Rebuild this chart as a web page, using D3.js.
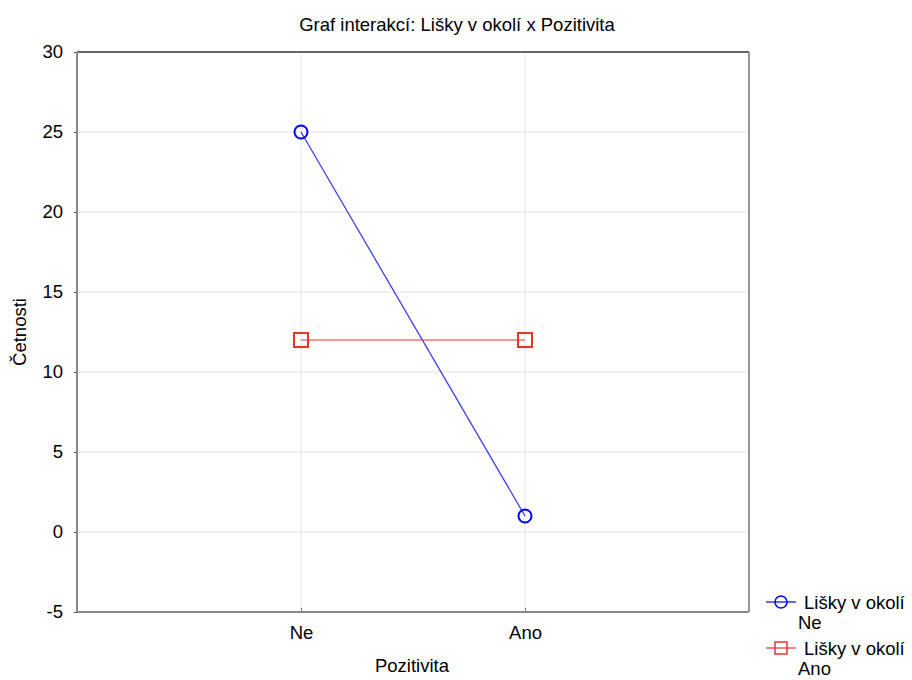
<!DOCTYPE html>
<meta charset="utf-8">
<style>
body { margin: 0; background: #fff; }
text { font-family: "Liberation Sans", Arial, sans-serif; fill: #000; }
</style>
<body>
<script src="https://d3js.org/d3.v7.min.js"></script>
<script>

var categories = ["Ne", "Ano"];
var seriesNames = ["Lišky v okolí\nNe", "Lišky v okolí\nAno"];
var seriesNe = [25, 1];
var seriesAno = [12, 12];
var yTicks = [-5, 0, 5, 10, 15, 20, 25, 30];

var width = 912, height = 680;
var pLeft = 77, pRight = 749, pTop = 52, pBottom = 612;

var svg = d3.select("body").append("svg")
    .attr("width", width)
    .attr("height", height);

var x = d3.scalePoint().domain(categories).range([pLeft, pRight]).padding(1);
var y = d3.scaleLinear().domain([-5, 30]).range([pBottom, pTop]);

// grid
svg.append("g").selectAll("line").data(yTicks.slice(1, -1)).enter().append("line")
    .attr("x1", pLeft).attr("x2", pRight)
    .attr("y1", d => y(d)).attr("y2", d => y(d))
    .attr("stroke", "#e3e3e3").attr("stroke-width", 1);
svg.append("g").selectAll("line").data(categories).enter().append("line")
    .attr("x1", d => x(d)).attr("x2", d => x(d))
    .attr("y1", pTop).attr("y2", pBottom)
    .attr("stroke", "#e3e3e3").attr("stroke-width", 1);

// axes
var yAxis = svg.append("g").attr("transform", "translate(" + pLeft + ",0)")
    .call(d3.axisLeft(y).tickValues(yTicks).tickFormat(d => String(d)).tickSize(3).tickPadding(11));
yAxis.select(".domain").remove();
yAxis.selectAll("line").attr("stroke", "#555");
yAxis.selectAll("text").style("font-size", "18.5px").attr("fill", "#000");

var xAxis = svg.append("g").attr("transform", "translate(0," + pBottom + ")")
    .call(d3.axisBottom(x).tickSize(-4).tickPadding(14));
xAxis.select(".domain").remove();
xAxis.selectAll("line").attr("stroke", "#777");
xAxis.selectAll("text").style("font-size", "18.5px").attr("fill", "#000");

// frame
svg.append("line").attr("x1", pLeft).attr("x2", pRight).attr("y1", pTop).attr("y2", pTop)
    .attr("stroke", "#333").attr("stroke-width", 1.5);
svg.append("line").attr("x1", pRight).attr("x2", pRight).attr("y1", pTop).attr("y2", pBottom)
    .attr("stroke", "#777").attr("stroke-width", 1.5);
svg.append("line").attr("x1", pLeft).attr("x2", pLeft).attr("y1", pTop).attr("y2", pBottom)
    .attr("stroke", "#888").attr("stroke-width", 2);
svg.append("line").attr("x1", pLeft).attr("x2", pRight).attr("y1", pBottom).attr("y2", pBottom)
    .attr("stroke", "#888").attr("stroke-width", 2);

// titles
svg.append("text").attr("x", 457).attr("y", 31).attr("text-anchor", "middle")
    .style("font-size", "18.5px").text("Graf interakcí: Lišky v okolí x Pozitivita");
svg.append("text").attr("transform", "translate(26," + ((pTop + pBottom) / 2) + ") rotate(-90)")
    .attr("text-anchor", "middle").style("font-size", "18.5px").text("Četnosti");
svg.append("text").attr("x", 412).attr("y", 672).attr("text-anchor", "middle")
    .style("font-size", "18.5px").text("Pozitivita");

var line = d3.line().x((d, i) => x(categories[i])).y(d => y(d));

// series Ne (blue circles)
svg.append("path").datum(seriesNe).attr("d", line)
    .attr("fill", "none").attr("stroke", "#3333ff").attr("stroke-width", 1.2);
svg.selectAll(".c").data(seriesNe).enter().append("circle")
    .attr("cx", (d, i) => x(categories[i])).attr("cy", d => y(d)).attr("r", 6.5)
    .attr("fill", "none").attr("stroke", "#0000ff").attr("stroke-width", 2);

// series Ano (red squares)
svg.append("path").datum(seriesAno).attr("d", line)
    .attr("fill", "none").attr("stroke", "#e8332a").attr("stroke-width", 1.2);
svg.selectAll(".s").data(seriesAno).enter().append("rect")
    .attr("x", (d, i) => x(categories[i]) - 7).attr("y", d => y(d) - 7)
    .attr("width", 14).attr("height", 14)
    .attr("fill", "none").attr("stroke", "#e8332a").attr("stroke-width", 2);

// legend
var legend = svg.append("g");
var lg = legend.selectAll("g").data(seriesNames).enter().append("g")
    .attr("transform", (d, i) => "translate(0," + (602 + i * 46) + ")");
lg.append("line").attr("x1", 766).attr("x2", 796).attr("y1", 0).attr("y2", 0)
    .attr("stroke", (d, i) => i ? "#e8332a" : "#0000ff").attr("stroke-width", 1.2);
lg.filter((d, i) => i == 0).append("circle").attr("cx", 781).attr("cy", 0).attr("r", 6)
    .attr("fill", "none").attr("stroke", "#0000ff").attr("stroke-width", 1.5);
lg.filter((d, i) => i == 1).append("rect").attr("x", 775).attr("y", -6).attr("width", 12).attr("height", 12)
    .attr("fill", "none").attr("stroke", "#e8332a").attr("stroke-width", 1.5);
lg.append("text").attr("x", 804).attr("y", 7).style("font-size", "18.5px")
    .text(d => d.split("\n")[0]);
lg.append("text").attr("x", 798).attr("y", 27).style("font-size", "18.5px")
    .text(d => d.split("\n")[1]);

</script>
